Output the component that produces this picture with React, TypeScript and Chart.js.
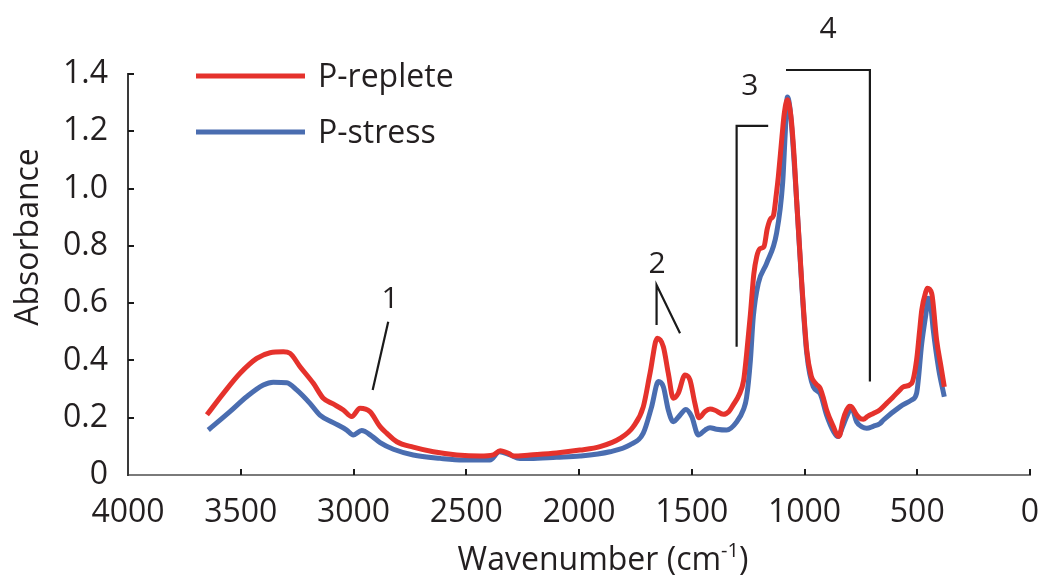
import React, { useEffect, useRef } from "react";
import { Chart, registerables } from "chart.js";

Chart.register(...registerables);

// FTIR spectra, wavenumber (cm-1) vs absorbance
const repleteWavenumbers = [
  3650, 3577, 3503, 3429, 3370, 3311, 3282, 3237, 3178, 3134, 3090, 3045, 3008, 2971, 2927, 2882,
  2853, 2808, 2735, 2646, 2542, 2439, 2380, 2350, 2313, 2291, 2217, 2100, 1996, 1907, 1818, 1759,
  1715, 1685, 1653, 1626, 1604, 1582, 1560, 1530, 1508, 1486, 1468, 1441, 1419, 1397, 1360, 1335,
  1316, 1290, 1270, 1257, 1240, 1225, 1212, 1198, 1180, 1165, 1150, 1138, 1125, 1116, 1100, 1090,
  1076, 1065, 1057, 1045, 1035, 1012, 990, 970, 961, 945, 931, 915, 902, 872, 850, 843, 830, 813,
  800, 791, 780, 769, 750, 739, 720, 695, 665, 636, 610, 577, 562, 525, 503, 490, 480, 462, 455,
  436, 414, 395, 380,
];
const repleteAbsorbance = [
  0.21, 0.285, 0.355, 0.407, 0.427, 0.43, 0.425, 0.378, 0.32, 0.268, 0.248, 0.227, 0.204, 0.233,
  0.221, 0.169, 0.146, 0.116, 0.097, 0.081, 0.07, 0.066, 0.07, 0.085, 0.076, 0.066, 0.07, 0.077,
  0.087, 0.099, 0.128, 0.169, 0.238, 0.355, 0.477, 0.448, 0.355, 0.268, 0.285, 0.349, 0.332, 0.25,
  0.2, 0.222, 0.23, 0.226, 0.212, 0.222, 0.245, 0.28, 0.33, 0.42, 0.56, 0.7, 0.762, 0.79, 0.797,
  0.86, 0.895, 0.905, 0.98, 1.042, 1.18, 1.26, 1.31, 1.28, 1.228, 1.1, 0.96, 0.669, 0.436, 0.345,
  0.33, 0.315, 0.303, 0.265, 0.227, 0.169, 0.135, 0.14, 0.19, 0.227, 0.24, 0.238, 0.225, 0.21,
  0.196, 0.195, 0.205, 0.215, 0.228, 0.25, 0.27, 0.297, 0.308, 0.32, 0.401, 0.5, 0.576, 0.64,
  0.652, 0.634, 0.471, 0.38, 0.308,
];

const stressWavenumbers = [
  3644, 3548, 3474, 3400, 3356, 3296, 3252, 3193, 3149, 3090, 3030, 3001, 2964, 2919, 2882, 2823,
  2735, 2616, 2513, 2395, 2353, 2306, 2262, 2217, 2100, 1996, 1863, 1774, 1715, 1678, 1648, 1626,
  1604, 1582, 1552, 1526, 1500, 1471, 1441, 1419, 1390, 1345, 1301, 1270, 1257, 1240, 1227, 1205,
  1168, 1124, 1097, 1085, 1076, 1066, 1057, 1035, 1012, 990, 961, 931, 902, 870, 852, 830, 813,
  791, 769, 745, 724, 695, 665, 650, 577, 525, 503, 480, 462, 451, 440, 429, 405, 380,
];
const stressAbsorbance = [
  0.157, 0.221, 0.273, 0.314, 0.324, 0.322, 0.297, 0.25, 0.209, 0.183, 0.157, 0.14, 0.155, 0.136,
  0.113, 0.09, 0.07, 0.058, 0.052, 0.052, 0.081, 0.07, 0.058, 0.058, 0.062, 0.066, 0.081, 0.105,
  0.146, 0.238, 0.326, 0.308, 0.227, 0.186, 0.209, 0.229, 0.204, 0.14, 0.157, 0.165, 0.16, 0.157,
  0.185, 0.23, 0.27, 0.4, 0.553, 0.669, 0.739, 0.844, 1.018, 1.2, 1.32, 1.29, 1.216, 0.96, 0.66,
  0.425, 0.308, 0.285, 0.209, 0.15, 0.134, 0.17, 0.204, 0.233, 0.186, 0.168, 0.163, 0.17, 0.18,
  0.192, 0.238, 0.262, 0.285, 0.46, 0.56, 0.617, 0.59, 0.506, 0.37, 0.273,
];

const seriesLabels = ["P-replete", "P-stress"];
const seriesColors = ["#e5322c", "#4a6db0"];

const xMin = 0;
const xMax = 4000;
const xStep = 500;
const yMin = 0;
const yMax = 1.4;
const yStep = 0.2;

const xTitle = "Wavenumber (cm";
const xTitleSup = "-1";
const yTitle = "Absorbance";

// Numbered band markers: label anchor and leader line vertices, in (wavenumber, absorbance)
const bandLabels = ["1", "2", "3", "4"];
const bandLabelAnchors: [number, number][] = [
  [2838, 0.583],
  [1654, 0.705],
  [1242, 1.327],
  [896, 1.526],
];
const bandLeaders: [number, number][][] = [
  [[2846, 0.535], [2915, 0.297]],
  [[1656, 0.524], [1656, 0.663], [1552, 0.495]],
  [[1161, 1.219], [1301, 1.219], [1301, 0.448]],
  [[1082, 1.414], [710, 1.414], [710, 0.326]],
];

const FONT = "'Open Sans', 'DejaVu Sans', sans-serif";
const TEXT_COLOR = "#231f20";

const decorPlugin = {
  id: "spectrumDecor",
  afterDraw(chart: any) {
    const { ctx, chartArea, scales } = chart;
    const xs = scales.x;
    const ys = scales.y;
    ctx.save();

    // inward tick marks
    ctx.strokeStyle = "#1a1a1a";
    ctx.lineWidth = 2;
    for (let v = xMin; v < xMax; v += xStep) {
      const px = Math.round(xs.getPixelForValue(v));
      ctx.beginPath();
      ctx.moveTo(px, chartArea.bottom);
      ctx.lineTo(px, chartArea.bottom - 6);
      ctx.stroke();
    }
    for (let v = yStep; v <= yMax + 1e-9; v += yStep) {
      const py = Math.round(ys.getPixelForValue(v));
      ctx.beginPath();
      ctx.moveTo(chartArea.left, py);
      ctx.lineTo(chartArea.left + 6, py);
      ctx.stroke();
    }

    // band markers
    ctx.strokeStyle = "#1a1a1a";
    ctx.lineWidth = 2.2;
    bandLeaders.forEach((pts) => {
      ctx.beginPath();
      pts.forEach(([w, a], i) => {
        const px = xs.getPixelForValue(w);
        const py = ys.getPixelForValue(a);
        if (i === 0) ctx.moveTo(px, py);
        else ctx.lineTo(px, py);
      });
      ctx.stroke();
    });
    ctx.fillStyle = TEXT_COLOR;
    ctx.font = `30px ${FONT}`;
    ctx.textAlign = "center";
    ctx.textBaseline = "alphabetic";
    bandLabels.forEach((t, i) => {
      const [w, a] = bandLabelAnchors[i];
      ctx.fillText(t, xs.getPixelForValue(w), ys.getPixelForValue(a));
    });

    // legend
    ctx.font = `32px ${FONT}`;
    ctx.textAlign = "left";
    const legendRows = [
      { lineY: 76, textY: 87 },
      { lineY: 132, textY: 143 },
    ];
    seriesLabels.forEach((label, i) => {
      const row = legendRows[i];
      ctx.strokeStyle = seriesColors[i];
      ctx.lineWidth = 5;
      ctx.beginPath();
      ctx.moveTo(196, row.lineY);
      ctx.lineTo(305, row.lineY);
      ctx.stroke();
      ctx.fillStyle = TEXT_COLOR;
      ctx.fillText(label, 318, row.textY);
    });

    // x axis title with superscript
    const mainFont = `32px ${FONT}`;
    const supFont = `20px ${FONT}`;
    ctx.font = mainFont;
    const w1 = ctx.measureText(xTitle).width;
    const w3 = ctx.measureText(")").width;
    ctx.font = supFont;
    const w2 = ctx.measureText(xTitleSup).width;
    const total = w1 + w2 + w3;
    let tx = 603 - total / 2;
    const base = 570;
    ctx.fillStyle = TEXT_COLOR;
    ctx.font = mainFont;
    ctx.fillText(xTitle, tx, base);
    tx += w1;
    ctx.font = supFont;
    ctx.fillText(xTitleSup, tx, base - 13);
    tx += w2;
    ctx.font = mainFont;
    ctx.fillText(")", tx, base);

    // y axis title
    ctx.translate(38, 237);
    ctx.rotate(-Math.PI / 2);
    ctx.textAlign = "center";
    ctx.font = mainFont;
    ctx.fillText(yTitle, 0, 0);

    ctx.restore();
  },
};

export default function App() {
  const canvasRef = useRef<HTMLCanvasElement | null>(null);

  useEffect(() => {
    const canvas = canvasRef.current;
    if (!canvas) return;

    const chart = new Chart(canvas, {
      type: "line",
      data: {
        datasets: [
          {
            label: seriesLabels[0],
            data: repleteWavenumbers.map((w, i) => ({ x: w, y: repleteAbsorbance[i] })),
            borderColor: seriesColors[0],
            borderWidth: 5,
            pointRadius: 0,
            cubicInterpolationMode: "monotone",
            fill: false,
          },
          {
            label: seriesLabels[1],
            data: stressWavenumbers.map((w, i) => ({ x: w, y: stressAbsorbance[i] })),
            borderColor: seriesColors[1],
            borderWidth: 5,
            pointRadius: 0,
            cubicInterpolationMode: "monotone",
            fill: false,
          },
        ],
      },
      options: {
        responsive: false,
        animation: false,
        devicePixelRatio: 1,
        layout: { padding: { top: 74, right: 12, bottom: 0, left: 0 } },
        plugins: {
          legend: { display: false },
          tooltip: { enabled: false },
          title: { display: false },
        },
        scales: {
          x: {
            type: "linear",
            reverse: true,
            min: xMin,
            max: xMax,
            grid: { display: false },
            border: { display: true, color: "#7a7a7a", width: 2 },
            ticks: {
              stepSize: xStep,
              autoSkip: false,
              maxRotation: 0,
              padding: 11,
              color: TEXT_COLOR,
              font: { family: FONT, size: 32 },
              callback: (v: any) => String(v),
            },
            afterFit: (scale: any) => {
              scale.height = 104;
              scale.paddingLeft = 0;
              scale.paddingRight = 0;
            },
          },
          y: {
            type: "linear",
            min: yMin,
            max: yMax,
            grid: { display: false },
            border: { display: true, color: "#3a3a3a", width: 2 },
            ticks: {
              stepSize: yStep,
              padding: 12,
              color: TEXT_COLOR,
              font: { family: FONT, size: 32 },
              callback: (v: any) => (Math.abs(v) < 1e-9 ? "0" : Number(v).toFixed(1)),
            },
            afterFit: (scale: any) => {
              scale.width = 128;
              scale.paddingTop = 0;
              scale.paddingBottom = 0;
            },
          },
        },
      },
      plugins: [decorPlugin],
    });

    return () => chart.destroy();
  }, []);

  return (
    <div style={{ position: "absolute", left: 0, top: 0, width: 1042, height: 579, background: "#fff" }}>
      <canvas ref={canvasRef} width={1042} height={579} />
    </div>
  );
}
